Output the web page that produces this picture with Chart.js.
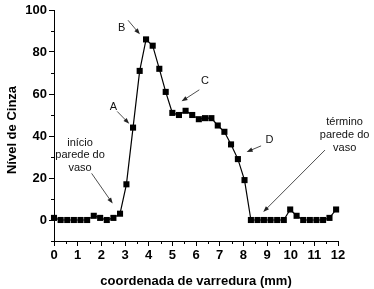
<!DOCTYPE html>
<html>
<head>
<meta charset="utf-8">
<script src="https://cdn.jsdelivr.net/npm/chart.js@4/dist/chart.umd.min.js"></script>
<style>
html,body{margin:0;padding:0;background:#fff;}
#wrap{width:374px;height:289px;}
</style>
</head>
<body>
<div id="wrap"><canvas id="c" width="374" height="289"></canvas></div>
<script>
// scan coordinate (mm)
const xValues = [0,0.28,0.56,0.84,1.12,1.40,1.68,1.95,2.23,2.51,2.79,3.06,3.34,3.62,3.89,4.17,4.45,4.72,5.00,5.28,5.56,5.84,6.12,6.38,6.65,6.92,7.20,7.48,7.77,8.05,8.32,8.60,8.87,9.15,9.43,9.71,9.98,10.25,10.53,10.81,11.09,11.37,11.64,11.92];
// grey level
const yValues = [1,0,0,0,0,0,2,1,0,1,3,17,44,71,86,83,72,61,51,50,52,50,48,48.5,48.5,45,42,36,29,19,0,0,0,0,0,0,5,2,0,0,0,0,1,5];
const xTickValues = [0,1,2,3,4,5,6,7,8,9,10,11,12];
const yTickValues = [0,20,40,60,80,100];
const xMinorTicks = [0.5,1.5,2.5,3.5,4.5,5.5,6.5,7.5,8.5,9.5,10.5,11.5];
const yMinorTicks = [-10,10,30,50,70,90];
const xTitle = 'coordenada de varredura (mm)';
const yTitle = 'Nível de Cinza';

// annotations in data units
const labelTexts = [
  {t:'B', x:2.86, y:91.6},
  {t:'A', x:2.51, y:54},
  {t:'C', x:6.38, y:66},
  {t:'D', x:9.1, y:38.1},
  {t:'início', x:1.1, y:36.5},
  {t:'parede do', x:1.1, y:31},
  {t:'vaso', x:1.1, y:24.7},
  {t:'término', x:12.28, y:46.9},
  {t:'parede do', x:12.28, y:40.5},
  {t:'vaso', x:12.28, y:34.3}
];
const arrows = [
  {x1:3.13, y1:95.1, x2:3.63, y2:88.4},
  {x1:2.67, y1:51.7, x2:3.18, y2:45.8},
  {x1:6.14, y1:62, x2:5.39, y2:56.5},
  {x1:8.75, y1:35.3, x2:8.14, y2:32.4},
  {x1:1.59, y1:22.2, x2:2.48, y2:7.8},
  {x1:11.45, y1:33.3, x2:8.84, y2:3.8}
];

const FONT = "'Liberation Sans', Arial, sans-serif";

const extras = {
  id: 'extras',
  afterDraw(chart) {
    const ctx = chart.ctx;
    const xs = chart.scales.x, ys = chart.scales.y;
    const ca = chart.chartArea;
    ctx.save();
    ctx.strokeStyle = '#000';
    ctx.lineWidth = 1;
    // minor ticks
    xMinorTicks.forEach(v => {
      const px = Math.round(xs.getPixelForValue(v)) + 0.5;
      ctx.beginPath(); ctx.moveTo(px, ca.bottom); ctx.lineTo(px, ca.bottom + 3); ctx.stroke();
    });
    yMinorTicks.forEach(v => {
      const py = Math.round(ys.getPixelForValue(v)) + 0.5;
      ctx.beginPath(); ctx.moveTo(ca.left, py); ctx.lineTo(ca.left - 3, py); ctx.stroke();
    });
    // y axis title
    ctx.save();
    ctx.fillStyle = '#000';
    ctx.font = 'bold 13px ' + FONT;
    ctx.textAlign = 'center';
    ctx.textBaseline = 'middle';
    ctx.translate(12, (ca.top + ca.bottom) / 2 + 4.5);
    ctx.rotate(-Math.PI / 2);
    ctx.fillText(yTitle, 0, 0);
    ctx.restore();
    // labels
    ctx.fillStyle = '#111';
    ctx.font = '11px ' + FONT;
    ctx.textAlign = 'center';
    ctx.textBaseline = 'middle';
    labelTexts.forEach(l => {
      ctx.fillText(l.t, xs.getPixelForValue(l.x), ys.getPixelForValue(l.y));
    });
    // arrows
    ctx.strokeStyle = '#222';
    ctx.fillStyle = '#222';
    ctx.lineWidth = 0.8;
    arrows.forEach(a => {
      const x1 = xs.getPixelForValue(a.x1), y1 = ys.getPixelForValue(a.y1);
      const x2 = xs.getPixelForValue(a.x2), y2 = ys.getPixelForValue(a.y2);
      const ang = Math.atan2(y2 - y1, x2 - x1);
      const hl = 6, hw = 2.2;
      ctx.beginPath(); ctx.moveTo(x1, y1);
      ctx.lineTo(x2 - Math.cos(ang) * hl * 0.8, y2 - Math.sin(ang) * hl * 0.8); ctx.stroke();
      ctx.beginPath();
      ctx.moveTo(x2, y2);
      ctx.lineTo(x2 - Math.cos(ang) * hl - Math.sin(ang) * hw, y2 - Math.sin(ang) * hl + Math.cos(ang) * hw);
      ctx.lineTo(x2 - Math.cos(ang) * hl + Math.sin(ang) * hw, y2 - Math.sin(ang) * hl - Math.cos(ang) * hw);
      ctx.closePath(); ctx.fill();
    });
    ctx.restore();
  }
};

new Chart(document.getElementById('c'), {
  type: 'scatter',
  data: {
    datasets: [{
      data: xValues.map((x, i) => ({x: x, y: yValues[i]})),
      showLine: true,
      borderColor: '#000',
      borderWidth: 1.2,
      backgroundColor: '#000',
      pointStyle: 'rect',
      pointRadius: 4.3,
      pointBorderWidth: 0,
      tension: 0,
      clip: false
    }]
  },
  options: {
    responsive: false,
    devicePixelRatio: 1,
    animation: false,
    layout: {padding: {left: 0, right: 36, top: 10, bottom: 0}},
    plugins: {legend: {display: false}, tooltip: {enabled: false}},
    scales: {
      x: {
        type: 'linear', min: 0, max: 12,
        afterBuildTicks: s => { s.ticks = xTickValues.map(v => ({value: v})); },
        afterFit: s => { s.height = 48; },
        ticks: {font: {family: FONT, size: 13, weight: 'bold'}, color: '#000', padding: 2, maxRotation: 0},
        grid: {display: true, drawOnChartArea: false, drawTicks: true, tickLength: 5, color: '#000'},
        border: {display: true, color: '#000', width: 1},
        title: {display: true, text: xTitle, color: '#000',
                font: {family: FONT, size: 13, weight: 'bold'}, padding: {top: 8, bottom: 0}}
      },
      y: {
        type: 'linear', min: -10, max: 100,
        afterBuildTicks: s => { s.ticks = yTickValues.map(v => ({value: v})); },
        afterFit: s => { s.width = 54; },
        ticks: {font: {family: FONT, size: 13, weight: 'bold'}, color: '#000', padding: 2},
        grid: {display: true, drawOnChartArea: false, drawTicks: true, tickLength: 5, color: '#000'},
        border: {display: true, color: '#000', width: 1},
        title: {display: false, text: yTitle}
      }
    }
  },
  plugins: [extras]
});
</script>
</body>
</html>
